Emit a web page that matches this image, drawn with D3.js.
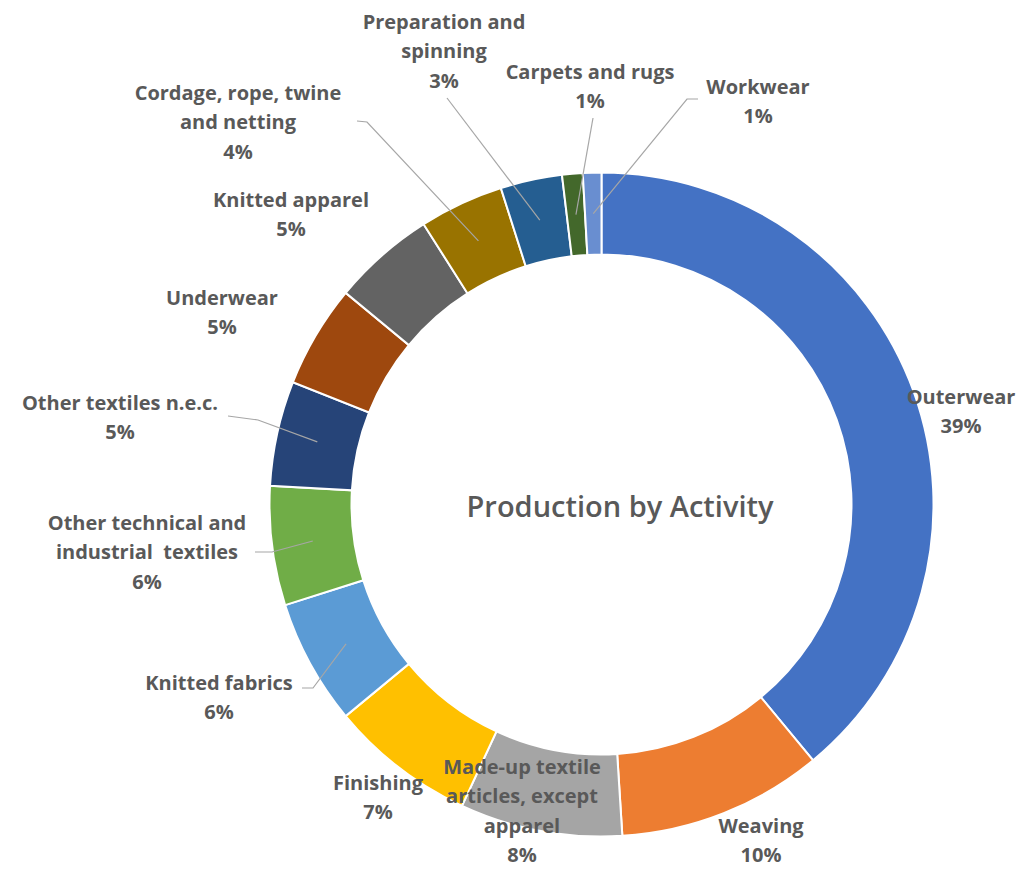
<!DOCTYPE html>
<html>
<head>
<meta charset="utf-8">
<script src="https://cdn.jsdelivr.net/npm/d3@7"></script>
<style>
  body { margin: 0; background: #ffffff; }
  svg { display: block; }
</style>
</head>
<body>
<div></div>
<script>
// ---------------------------------------------------
// 1. DATA
// ---------------------------------------------------
var categories = ["Outerwear", "Weaving", "Made-up textile articles, except apparel", "Finishing",
    "Knitted fabrics", "Other technical and industrial textiles", "Other textiles n.e.c.",
    "Underwear", "Knitted apparel", "Cordage, rope, twine and netting",
    "Preparation and spinning", "Carpets and rugs", "Workwear"];
var values = [39.0, 10.0, 7.9, 7.1, 6.1, 5.8, 5.1, 5.0, 5.0, 4.1, 3.0, 1.0, 0.9];
var colors = ["#4472C4", "#ED7D31", "#A5A5A5", "#FFC000", "#5B9BD5", "#70AD47", "#264478",
    "#9E480E", "#636363", "#997300", "#255E91", "#43682B", "#698ED0"];
var title = "Production by Activity";

// text of each label, split in lines like the original
var labelLines = [
    ["Outerwear"], ["Weaving"], ["Made-up textile", "articles, except", "apparel"], ["Finishing"],
    ["Knitted fabrics"], ["Other technical and", "industrial  textiles"], ["Other textiles n.e.c."],
    ["Underwear"], ["Knitted apparel"], ["Cordage, rope, twine", "and netting"],
    ["Preparation and", "spinning"], ["Carpets and rugs"], ["Workwear"]
];

// ---------------------------------------------------
// 2. LAYOUT (label boxes and leader lines)
// ---------------------------------------------------
var labelPos = [
    [961, 397], [761, 826], [522, 767], [378, 783], [219, 683], [147, 523], [120, 403],
    [222, 298], [291, 200], [238, 93], [444, 22], [590, 72], [758, 87]
];
var leaderEnds = [
    null, null, null, null,
    [[313, 688], [302, 688]],
    [[272, 552], [255, 552]],
    [[258, 420], [228, 416]],
    null, null,
    [[367, 122], [357, 121]],
    [[447, 98]],
    [[593, 118]],
    [[687, 99], [698, 99]]
];

var width = 1020, height = 872;
var cx = 601.5, cy = 504.5;
var outerR = 332, innerR = 250;
var lineH = 29.3;

var svg = d3.select("div")
    .append("svg")
    .attr("width", width)
    .attr("height", height);

var g = svg.append("g")
    .attr("transform", "translate(" + cx + "," + cy + ")");

// ---------------------------------------------------
// 3. DONUT
// ---------------------------------------------------
var pie = d3.pie()
    .value(d => d)
    .sort(null);

var arc = d3.arc()
    .innerRadius(innerR)
    .outerRadius(outerR);

var arcs = pie(values);

g.selectAll("path")
    .data(arcs)
    .enter()
    .append("path")
    .attr("d", arc)
    .attr("fill", (d, i) => colors[i])
    .attr("stroke", "#ffffff")
    .attr("stroke-width", 2);

// leader lines, from the centre of the slice to the label
var line = d3.line();
g.append("g")
    .selectAll("path")
    .data(arcs.filter((d, i) => leaderEnds[i] != null))
    .enter()
    .append("path")
    .attr("d", function (d) {
        var c = arc.centroid(d);
        var pts = [c].concat(leaderEnds[d.index].map(p => [p[0] - cx, p[1] - cy]));
        return line(pts);
    })
    .attr("fill", "none")
    .attr("stroke", "#a6a6a6")
    .attr("stroke-width", 1.2);

// ---------------------------------------------------
// 4. LABELS
// ---------------------------------------------------
var total = d3.sum(values);
var labels = svg.append("g")
    .selectAll("text")
    .data(arcs)
    .enter()
    .append("text")
    .attr("text-anchor", "middle")
    .attr("font-family", "'Open Sans', sans-serif")
    .attr("font-weight", 700)
    .attr("font-size", 20)
    .attr("fill", "#595959");

labels.each(function (d, i) {
    var t = d3.select(this);
    var lines = labelLines[i].concat([Math.round(d.data / total * 100) + "%"]);
    lines.forEach(function (s, k) {
        t.append("tspan")
            .attr("x", labelPos[i][0])
            .attr("y", labelPos[i][1] + k * lineH)
            .attr("dy", "0.35em")
            .attr("xml:space", "preserve")
            .text(s);
    });
});

// title in the hole
svg.append("text")
    .attr("x", 620)
    .attr("y", 507)
    .attr("dy", "0.35em")
    .attr("text-anchor", "middle")
    .attr("font-family", "'Open Sans', sans-serif")
    .attr("font-weight", 600)
    .attr("font-size", 29)
    .attr("fill", "#595959")
    .text(title);
</script>
</body>
</html>
